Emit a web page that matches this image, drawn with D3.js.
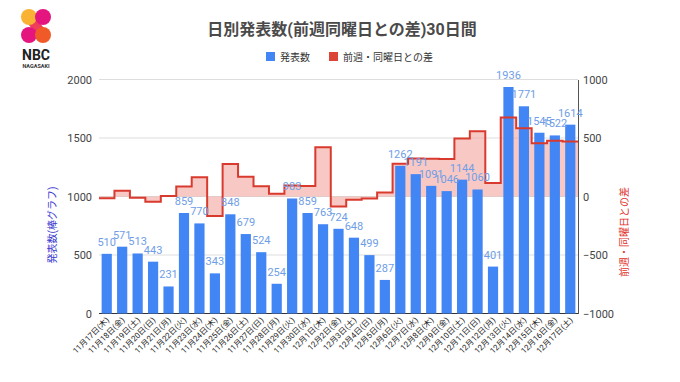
<!DOCTYPE html>
<html><head><meta charset="utf-8">
<script src="https://cdn.jsdelivr.net/npm/d3@7"></script>
<style>
body{margin:0;background:#fff;}
text{font-family:Roboto,"Noto Sans CJK JP",sans-serif;}
</style></head>
<body><svg id="c" width="680" height="382"></svg>
<script>
const dates = ["11月17日(木)","11月18日(金)","11月19日(土)","11月20日(日)","11月21日(月)","11月22日(火)","11月23日(水)","11月24日(木)","11月25日(金)","11月26日(土)","11月27日(日)","11月28日(月)","11月29日(火)","11月30日(水)","12月1日(木)","12月2日(金)","12月3日(土)","12月4日(日)","12月5日(月)","12月6日(火)","12月7日(水)","12月8日(木)","12月9日(金)","12月10日(土)","12月11日(日)","12月12日(月)","12月13日(火)","12月14日(水)","12月15日(木)","12月16日(金)","12月17日(土)"];
const counts = [510,571,513,443,231,859,770,343,848,679,524,254,983,859,763,724,648,499,287,1262,1191,1091,1046,1144,1060,401,1936,1771,1545,1522,1614];
const diffs = [-15,50,-10,-45,5,85,165,-167,277,168,88,23,95,90,422,-85,-28,-18,35,280,325,322,320,496,558,115,675,583,456,476,470];
const leftTicks = [0,500,1000,1500,2000];
const rightTicks = [-1000,-500,0,500,1000];

const svg = d3.select("#c");
const L = 99, R = 578, T = 79.5, B = 313.5;
const x = d3.scaleBand().domain(dates).range([L,R]).paddingInner(0.34).paddingOuter(0.17);
const xs = d3.scaleBand().domain(dates).range([L,R]);
const yL = d3.scaleLinear().domain([0,2000]).range([B,T]);
const yR = d3.scaleLinear().domain([-1000,1000]).range([B,T]);

// gridlines
svg.append("g").selectAll("line").data(leftTicks).join("line")
  .attr("x1",L).attr("x2",R).attr("y1",d=>yL(d)).attr("y2",d=>yL(d))
  .attr("stroke",d=>d===0?"#333":"#ddd").attr("stroke-width",1);

// left axis labels
const gl = svg.append("g").attr("transform",`translate(${L},0)`)
  .call(d3.axisLeft(yL).tickValues(leftTicks).tickFormat(d3.format("d")).tickSize(0).tickPadding(7));
gl.select(".domain").remove();
gl.selectAll("text").attr("font-size",11).attr("fill","#444").style("font-family","Roboto,sans-serif");

// right axis
const gr = svg.append("g").attr("transform",`translate(${R},0)`)
  .call(d3.axisRight(yR).tickValues(rightTicks).tickFormat(d3.format("d")).tickSize(0).tickPadding(5));
gr.select(".domain").attr("stroke","#555");
gr.selectAll("text").attr("font-size",11).attr("fill","#444").style("font-family","Roboto,sans-serif");

// diff area + step line
const pts = [];
diffs.forEach((v,i)=>{ const x0 = xs(dates[i]), x1 = x0+xs.bandwidth(); pts.push([x0,v],[x1,v]); });
svg.append("path").datum(pts)
  .attr("d", d3.area().x(d=>d[0]).y0(yR(0)).y1(d=>yR(d[1])))
  .attr("fill","#f4a59d").attr("fill-opacity",0.6);

// bars
svg.append("g").selectAll("rect").data(counts).join("rect")
  .attr("x",(d,i)=>x(dates[i])).attr("width",x.bandwidth())
  .attr("y",d=>yL(d)).attr("height",d=>B-yL(d)).attr("fill","#4285f4");

svg.append("path").datum(pts)
  .attr("d", d3.line().x(d=>d[0]).y(d=>yR(d[1])))
  .attr("fill","none").attr("stroke","#d93a2e").attr("stroke-width",2);

// bar labels
svg.append("g").selectAll("text").data(counts).join("text")
  .attr("x",(d,i)=>x(dates[i])+x.bandwidth()/2).attr("y",d=>yL(d)-8)
  .attr("text-anchor","middle").attr("font-size",11).attr("fill","#6f9ee6")
  .text(d=>d);

// x labels
svg.append("g").selectAll("text").data(dates).join("text")
  .attr("transform",d=>`translate(${x(d)+x.bandwidth()/2+3},${B+7}) rotate(-45)`)
  .attr("text-anchor","end").attr("font-size",8).attr("fill","#222")
  .text(d=>d);

// axis titles
svg.append("text").attr("transform","translate(56,225) rotate(-90)")
  .attr("text-anchor","middle").attr("font-size",10).attr("fill","#3b3bd0").text("発表数(棒グラフ)");
svg.append("text").attr("transform","translate(628,232) rotate(-90)")
  .attr("text-anchor","middle").attr("font-size",10).attr("fill","#e0302a").text("前週・同曜日との差");

// title
svg.append("text").attr("x",342).attr("y",35).attr("text-anchor","middle")
  .attr("font-size",16).attr("font-weight","bold").attr("fill","#4a4a4a")
  .text("日別発表数(前週同曜日との差)30日間");

// legend
const leg = [["発表数","#4285f4"],["前週・同曜日との差","#db4437"]];
const lx = [266, 329];
leg.forEach((l,i)=>{
  svg.append("rect").attr("x",lx[i]).attr("y",52).attr("width",9).attr("height",9).attr("fill",l[1]);
  svg.append("text").attr("x",lx[i]+14).attr("y",60.5).attr("font-size",10).attr("fill","#333").text(l[0]);
});

// logo
const logo = svg.append("g");
const circ = [[29,17,"#f9b233"],[43,17,"#e4157f"],[29,35,"#e4157f"],[43,35,"#f05a28"]];
logo.append("path").attr("d","M29,17 L43,35").attr("stroke","#ee3f5a").attr("stroke-width",10);
logo.selectAll("circle").data(circ).join("circle").attr("cx",d=>d[0]).attr("cy",d=>d[1]).attr("r",8).attr("fill",d=>d[2]);
logo.append("text").attr("x",36).attr("y",60).attr("text-anchor","middle").attr("font-size",14).attr("font-weight","bold").attr("fill","#222").text("NBC");
logo.append("text").attr("x",36).attr("y",68).attr("text-anchor","middle").attr("font-size",5.5).attr("font-weight","bold").attr("fill","#333").text("NAGASAKI");
</script></body></html>
